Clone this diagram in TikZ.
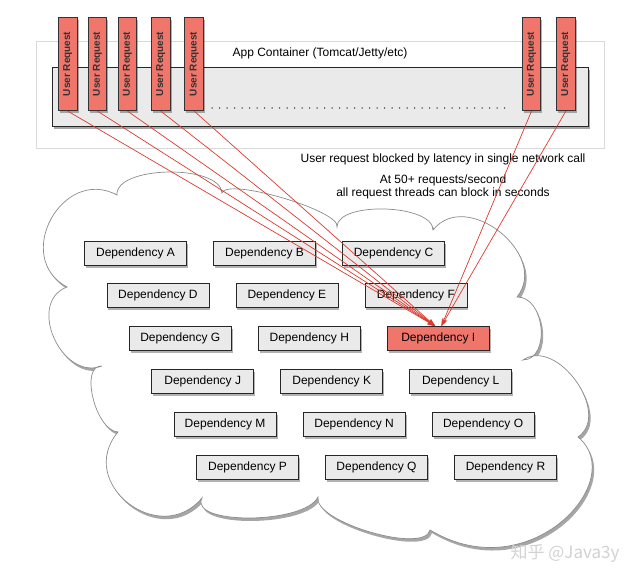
\documentclass[tikz,border=0pt]{standalone}
\usepackage{fontspec}
\usepackage{graphicx}
\setmainfont{Liberation Sans}
\newfontfamily\cjkfont{Noto Sans CJK SC}
\usetikzlibrary{shadows,arrows.meta}
\definecolor{reqred}{RGB}{240,118,108}
\definecolor{arrowred}{RGB}{220,58,46}
\definecolor{boxgray}{RGB}{234,234,234}
\definecolor{cloudedge}{RGB}{140,140,140}
\tikzset{
  softshadow/.style={drop shadow={shadow xshift=1.5pt, shadow yshift=-2.5pt, opacity=0.3, fill=black}},
  ureq/.style={draw=black!80, fill=reqred, line width=0.8pt, minimum width=18.7pt, minimum height=93.7pt, inner sep=0pt, font=\bfseries\fontsize{10}{12}\selectfont, text=black!80, softshadow},
  depbox/.style={draw=black!85, fill=boxgray, line width=0.8pt, minimum width=102pt, minimum height=24pt, inner sep=0pt, font=\fontsize{12}{14}\selectfont, softshadow},
  hotbox/.style={depbox, fill=reqred},
  lbl/.style={font=\fontsize{12}{14}\selectfont, inner sep=0pt},
  arr/.style={draw=arrowred, line width=0.7pt, -{Stealth[length=8pt,width=5pt]}},
}
\begin{document}
\begin{tikzpicture}[x=1pt,y=-1pt]
\useasboundingbox[fill=white] (0,0) rectangle (640,583);
% app container
\node[draw=gray!30, line width=0.5pt, minimum width=567.3pt, minimum height=106.6pt, inner sep=0pt] (frame) at (320.35,95) {};
\node[draw=black!85, fill=boxgray, line width=0.8pt, minimum width=535.6pt, minimum height=58.7pt, inner sep=0pt, drop shadow={shadow xshift=1.5pt, shadow yshift=-3pt, opacity=0.35, fill=black}] (container) at (320.5,96.65) {};
\node[lbl] (apptxt) at (320,53) {App Container (Tomcat/Jetty/etc)};
\coordinate (dotsL) at (212,108);
\coordinate (dotsR) at (512,108);
\draw[line width=1.5pt, line cap=round, dash pattern=on 0pt off 7.5pt, black!85] (dotsL) -- (dotsR);
% user requests
\foreach \n/\x in {1/67.8, 2/97.5, 3/127.5, 4/160.8, 5/194.2, 6/531.5, 7/565.8}{
  \node[ureq] (u\n) at (\x,63.9) {\rotatebox{90}{User Request}};
}
% texts
\node[lbl] (t1) at (443,159.3) {User request blocked by latency in single network call};
\node[lbl] (t2) at (443,180) {At 50+ requests/second};
\node[lbl] (t3) at (443,193) {all request threads can block in seconds};
% cloud
\path[draw=cloudedge, line width=0.7pt, fill=white, drop shadow={shadow xshift=2pt, shadow yshift=-3pt, opacity=0.35, fill=black}]
  (67,287) .. controls (12.3,257.7) and (62.3,165.7) .. (117,195)
  .. controls (115,165.7) and (220,163.7) .. (222,193)
  .. controls (226.7,177) and (341.7,211) .. (337,227)
  .. controls (337,201) and (433,204) .. (433,230)
  .. controls (466.3,188) and (550.3,255) .. (517,297)
  .. controls (545,296.3) and (551,359.3) .. (523,360)
  .. controls (557,336.7) and (612,413.7) .. (578,437)
  .. controls (630,480) and (530,590) .. (430,530)
  .. controls (424.7,554.7) and (312.7,521.7) .. (318,497)
  .. controls (304.7,524.3) and (188.7,525.3) .. (202,498)
  .. controls (159.3,548.7) and (75.3,482.7) .. (118,432)
  .. controls (95.3,430.7) and (79.3,364.7) .. (102,366)
  .. controls (61.3,381.3) and (26.3,302.3) .. (67,287) -- cycle;
% dependencies
\node[depbox] (A) at (135.5,253) {Dependency A};
\node[depbox] (B) at (264.5,253) {Dependency B};
\node[depbox] (C) at (393.5,253) {Dependency C};
\node[depbox] (D) at (157.9,295.8) {Dependency D};
\node[depbox] (E) at (286.9,295.8) {Dependency E};
\node[depbox] (F) at (415.9,295.8) {Dependency F};
\node[depbox] (G) at (180.3,338.6) {Dependency G};
\node[depbox] (H) at (309.3,338.6) {Dependency H};
\node[hotbox] (I) at (438.3,338.6) {Dependency I};
\node[depbox] (J) at (202.7,381.4) {Dependency J};
\node[depbox] (K) at (331.7,381.4) {Dependency K};
\node[depbox] (L) at (460.7,381.4) {Dependency L};
\node[depbox] (M) at (225.1,424.2) {Dependency M};
\node[depbox] (N) at (354.1,424.2) {Dependency N};
\node[depbox] (O) at (483.1,424.2) {Dependency O};
\node[depbox] (P) at (247.5,467) {Dependency P};
\node[depbox] (Q) at (376.5,467) {Dependency Q};
\node[depbox] (R) at (505.5,467) {Dependency R};
% arrows
\coordinate (tipL) at ([xshift=-3pt]I.north);
\coordinate (tipR) at ([xshift=3pt]I.north);
\foreach \n in {1,2,3,4,5}{ \draw[arr] (u\n.south) -- (tipL); }
\foreach \n in {6,7}{ \draw[arr] (u\n.south) -- (tipR); }
% watermark
\node[font=\cjkfont\fontsize{17}{20}\selectfont, text=gray!35, inner sep=0pt] (wm) at (565,553) {知乎 @Java3y};
\end{tikzpicture}
\end{document}
